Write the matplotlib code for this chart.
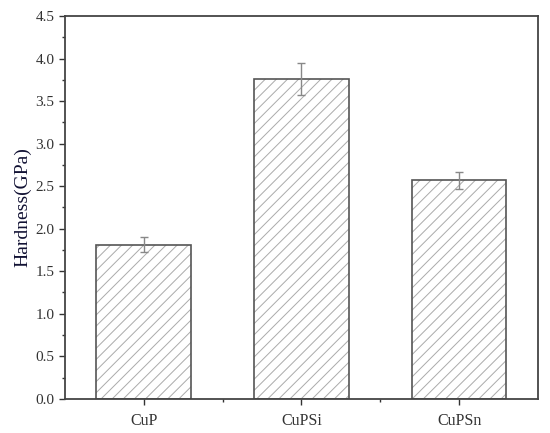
import numpy as np
import matplotlib.pyplot as plt
from matplotlib.ticker import MultipleLocator, FixedLocator

samples = ['CuP', 'CuPSi', 'CuPSn']
hardness = [1.81, 3.76, 2.57]
hardness_err = [0.09, 0.19, 0.10]

plt.rcParams['font.family'] = ['Liberation Serif', 'DejaVu Serif']
plt.rcParams['hatch.linewidth'] = 0.7

fig = plt.figure(figsize=(5.5, 4.33), dpi=100)
ax = fig.add_axes([0.118, 0.079, 0.860, 0.884])

x = np.arange(len(samples))
# hatch in light gray, outline drawn separately in darker gray
ax.bar(x, hardness, width=0.6, color='white', edgecolor='#aaaaaa',
       hatch='///', linewidth=0)
ax.bar(x, hardness, width=0.6, fill=False, edgecolor='#555555', linewidth=1.2)
ax.errorbar(x, hardness, yerr=hardness_err, fmt='none', ecolor='#888888',
            elinewidth=1.0, capsize=3, capthick=1.0)

ax.set_xlim(-0.5, 2.5)
ax.set_ylim(0, 4.5)
ax.set_xticks(x)
ax.set_xticklabels(samples)
ax.xaxis.set_minor_locator(FixedLocator([0.5, 1.5]))
ax.yaxis.set_major_locator(MultipleLocator(0.5))
ax.yaxis.set_minor_locator(MultipleLocator(0.25))
ax.yaxis.set_major_formatter(plt.FormatStrFormatter('%.1f'))

ax.tick_params(which='major', direction='out', length=4, width=1.0,
               color='#333333', labelsize=11, labelcolor='#333333')
ax.tick_params(axis='x', labelsize=11.5, pad=6)
ax.tick_params(which='minor', direction='out', length=2.5, width=1.0,
               color='#333333')
for s in ax.spines.values():
    s.set_color('#444444')
    s.set_linewidth(1.3)

ax.set_ylabel('Hardness(GPa)', fontsize=14, color='#111133', labelpad=3)

plt.savefig('out.png', dpi=100)
